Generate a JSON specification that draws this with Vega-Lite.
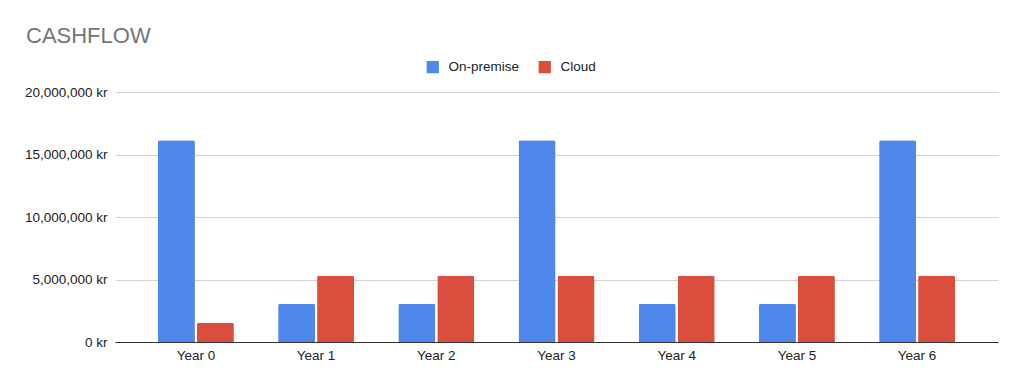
{
  "$schema": "https://vega.github.io/schema/vega-lite/v6.json",
  "autosize": "none",
  "width": 883,
  "height": 250,
  "padding": {"left": 115, "top": 92, "right": 26, "bottom": 47},
  "background": "white",
  "title": {
    "text": "CASHFLOW",
    "anchor": "start",
    "frame": "group",
    "dx": -89,
    "fontSize": 22,
    "font": "Liberation Sans",
    "fontWeight": "normal",
    "color": "#757575",
    "baseline": "alphabetic",
    "offset": -5
  },
  "data": {
    "values": [
      {"year": "Year 0", "type": "On-premise", "value": 16150000},
      {"year": "Year 0", "type": "Cloud", "value": 1550000},
      {"year": "Year 1", "type": "On-premise", "value": 3060000},
      {"year": "Year 1", "type": "Cloud", "value": 5310000},
      {"year": "Year 2", "type": "On-premise", "value": 3060000},
      {"year": "Year 2", "type": "Cloud", "value": 5310000},
      {"year": "Year 3", "type": "On-premise", "value": 16150000},
      {"year": "Year 3", "type": "Cloud", "value": 5310000},
      {"year": "Year 4", "type": "On-premise", "value": 3060000},
      {"year": "Year 4", "type": "Cloud", "value": 5310000},
      {"year": "Year 5", "type": "On-premise", "value": 3060000},
      {"year": "Year 5", "type": "Cloud", "value": 5310000},
      {"year": "Year 6", "type": "On-premise", "value": 16150000},
      {"year": "Year 6", "type": "Cloud", "value": 5310000}
    ]
  },
  "mark": {"type": "bar", "cornerRadiusTopLeft": 2, "cornerRadiusTopRight": 2},
  "encoding": {
    "x": {
      "field": "year",
      "type": "nominal",
      "sort": null,
      "scale": {"paddingInner": 0.368, "paddingOuter": 0.357},
      "axis": {
        "title": null,
        "labelAngle": 0,
        "ticks": false,
        "labelPadding": 6,
        "domainColor": "#333333",
        "grid": false
      }
    },
    "xOffset": {
      "field": "type",
      "type": "nominal",
      "sort": ["On-premise", "Cloud"],
      "scale": {"paddingInner": 0.05}
    },
    "y": {
      "field": "value",
      "type": "quantitative",
      "scale": {"domain": [0, 20000000], "nice": false},
      "axis": {
        "title": null,
        "values": [0, 5000000, 10000000, 15000000, 20000000],
        "labelExpr": "format(datum.value, ',') + ' kr'",
        "ticks": false,
        "domain": false,
        "labelPadding": 8,
        "gridColor": "#d4d4d4"
      }
    },
    "color": {
      "field": "type",
      "type": "nominal",
      "sort": ["On-premise", "Cloud"],
      "scale": {"domain": ["On-premise", "Cloud"], "range": ["#4f87ec", "#db4e3e"]},
      "legend": {
        "title": null,
        "orient": "none",
        "direction": "horizontal",
        "legendX": 311,
        "legendY": -32,
        "symbolType": "square",
        "symbolSize": 150,
        "symbolStrokeWidth": 0,
        "labelFontSize": 13.5,
        "labelColor": "#222222",
        "labelFont": "Liberation Sans",
        "columnPadding": 18,
        "labelOffset": 9
      }
    }
  },
  "config": {
    "view": {"stroke": null},
    "axis": {
      "labelFont": "Liberation Sans",
      "labelFontSize": 13.5,
      "labelColor": "#222222"
    }
  }
}
